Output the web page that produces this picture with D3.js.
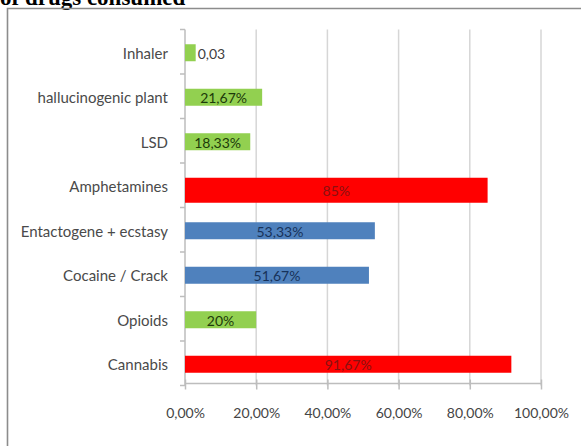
<!DOCTYPE html>
<html>
<head>
<meta charset="utf-8">
<script src="https://cdn.jsdelivr.net/npm/d3@7"></script>
<style>
  html, body { margin: 0; padding: 0; background: #fff; }
  svg { display: block; }
</style>
</head>
<body>
<svg id="chart" width="581" height="446"></svg>
<script>
// Drug categories, top to bottom
const categories = ["Inhaler", "hallucinogenic plant", "LSD", "Amphetamines",
  "Entactogene + ecstasy", "Cocaine / Crack", "Opioids", "Cannabis"];
// Share of consumers (fraction of 1)
const values = [0.03, 0.2167, 0.1833, 0.85, 0.5333, 0.5167, 0.20, 0.9167];
// Value labels as printed on the bars
const valueLabels = ["0,03", "21,67%", "18,33%", "85%", "53,33%", "51,67%", "20%", "91,67%"];
// Colour group of each bar
const groups = ["low", "low", "low", "high", "mid", "mid", "low", "high"];
// Horizontal axis ticks
const tickValues = [0, 0.2, 0.4, 0.6, 0.8, 1.0];
const tickLabels = ["0,00%", "20,00%", "40,00%", "60,00%", "80,00%", "100,00%"];

const fill = { low: "#92d050", mid: "#4f81bd", high: "#ff0000" };
const ink = { low: "#1d3a0a", mid: "#17325a", high: "#8a1010" };
const wideBars = new Set(["Amphetamines"]);

const svg = d3.select("#chart");
const uiFont = "Lato, 'Open Sans', sans-serif";

// Heading (runs into the top edge of the page)
svg.append("text")
  .attr("x", 0).attr("y", 5)
  .attr("font-family", "'Liberation Serif', 'DejaVu Serif', serif")
  .attr("font-weight", "bold").attr("font-size", 23)
  .attr("fill", "#000")
  .text("of drugs consumed");

// Chart frame (top and left edges)
svg.append("path")
  .attr("d", "M7.5,446 V8.5 H581")
  .attr("fill", "none").attr("stroke", "#8c8c8c").attr("stroke-width", 1.6);

const x = d3.scaleLinear().domain([0, 1]).range([185, 541]);
const y = d3.scaleBand().domain(categories).range([29.5, 385.5]).padding(0);
const barH = 17;

// Vertical gridlines
svg.append("g").selectAll("line").data(tickValues.slice(1)).join("line")
  .attr("x1", d => x(d)).attr("x2", d => x(d))
  .attr("y1", y.range()[0]).attr("y2", y.range()[1])
  .attr("stroke", "#d6d6d6").attr("stroke-width", 1.5);

// Horizontal axis
const xAxis = d3.axisBottom(x).tickValues(tickValues)
  .tickFormat((d, i) => tickLabels[i]).tickSize(6).tickPadding(19);
const gx = svg.append("g").attr("transform", `translate(0,${y.range()[1] - 2})`).call(xAxis);
gx.select(".domain").attr("stroke", "#bdbdbd").attr("stroke-width", 1.5)
  .attr("d", `M${x(0)},0H${x(1)}`);
gx.selectAll(".tick line").attr("stroke", "#bdbdbd").attr("stroke-width", 1.5)
  .attr("y1", -4).attr("y2", 6);
gx.selectAll(".tick text").attr("font-family", uiFont).attr("font-size", 14)
  .attr("fill", "#454545");

// Vertical category axis with ticks at band boundaries
const gy = svg.append("g");
gy.append("line")
  .attr("x1", x(0)).attr("x2", x(0))
  .attr("y1", y.range()[0]).attr("y2", y.range()[1])
  .attr("stroke", "#bdbdbd").attr("stroke-width", 1.5);
const edges = categories.map(c => y(c)).concat([y.range()[1]]);
gy.selectAll(".edge").data(edges).join("line")
  .attr("class", "edge")
  .attr("x1", x(0) - 5).attr("x2", x(0))
  .attr("y1", d => d).attr("y2", d => d)
  .attr("stroke", "#bdbdbd").attr("stroke-width", 1.5);
gy.selectAll("text").data(categories).join("text")
  .attr("x", 168)
  .attr("y", d => y(d) + y.bandwidth() / 2 + 1)
  .attr("text-anchor", "end").attr("dominant-baseline", "central")
  .attr("font-family", uiFont).attr("font-size", 15)
  .attr("fill", "#4a4a4a")
  .text(d => d);

// Bars
const rows = categories.map((c, i) => ({ c, v: values[i], label: valueLabels[i], g: groups[i] }));
const barTop = d => y(d.c) + (y.bandwidth() - barH) / 2 + 1;
const barHeight = d => wideBars.has(d.c) ? barH + 8 : barH;

svg.append("g").selectAll("rect").data(rows).join("rect")
  .attr("x", x(0))
  .attr("y", barTop)
  .attr("width", d => x(d.v) - x(0))
  .attr("height", barHeight)
  .attr("fill", d => fill[d.g]);

// Value labels: centred in the bar, or just after it when the bar is too short
const isShort = d => (x(d.v) - x(0)) < 40;
svg.append("g").selectAll("text").data(rows).join("text")
  .attr("x", d => isShort(d) ? x(d.v) + 2 : (x(0) + x(d.v)) / 2)
  .attr("y", d => barTop(d) + barHeight(d) / 2 + 0.5)
  .attr("text-anchor", d => isShort(d) ? "start" : "middle")
  .attr("dominant-baseline", "central")
  .attr("font-family", uiFont).attr("font-size", 14)
  .attr("fill", d => isShort(d) ? "#404040" : ink[d.g])
  .text(d => d.label);
</script>
</body>
</html>
